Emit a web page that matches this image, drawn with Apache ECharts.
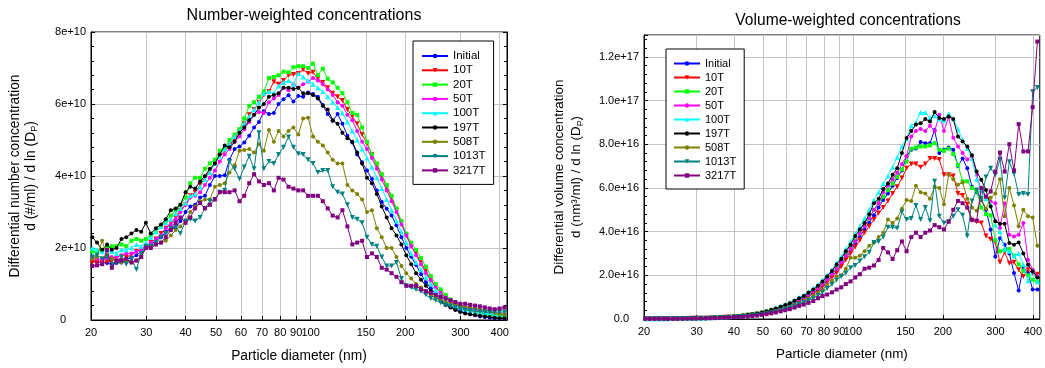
<!DOCTYPE html>
<html><head><meta charset="utf-8">
<script src="https://cdn.jsdelivr.net/npm/echarts@6/dist/echarts.min.js"></script>
<style>html,body{margin:0;padding:0;background:#fff}#c{width:1045px;height:368px}</style>
</head><body><div id="c"></div>
<script>
// Particle diameters (nm), SMPS channel midpoints
const diameters = [20.2,20.9,21.7,22.5,23.3,24.1,25.0,25.9,26.9,27.9,28.9,29.9,31.0,32.2,33.4,34.6,35.9,37.2,38.5,40.0,41.4,42.9,44.5,46.1,47.8,49.6,51.4,53.3,55.2,57.3,59.4,61.5,63.8,66.1,68.5,71.0,73.7,76.4,79.1,82.0,85.1,88.2,91.4,94.7,98.2,101.8,105.5,109.4,113.4,117.6,121.9,126.3,131.0,135.8,140.7,145.9,151.2,156.8,162.5,168.5,174.7,181.1,187.7,194.6,201.7,209.1,216.7,224.7,232.9,241.4,250.3,259.5,269.0,278.8,289.0,299.6,310.6,322.0,333.8,346.0,358.7,371.8,385.4,399.5,414.2];
const seriesNames = ['Initial','10T','20T','50T','100T','197T','508T','1013T','3217T'];

// Number-weighted (units of 1e10 #/ml)
const nInitial = [1.65,1.62,1.6,1.58,1.55,1.58,1.6,1.7,1.72,1.8, 1.9,2.0,2.1,2.2,2.3,2.45,2.55,2.55,2.75,3.0, 3.15,3.2,3.4,3.45,3.75,4.0,4.0,4.02,4.45,4.75, 4.82,4.93,5.12,5.35,5.5,5.8,5.72,5.75,6.0,6.13, 6.24,6.07,6.22,6.2,6.32,6.28,6.2,5.97,5.72,5.53, 5.72,5.45,5.12,4.93,4.6,4.38,4.15,3.92,3.6,3.28, 3.09,2.9,2.63,2.3,2.0,1.76,1.53,1.27,1.05,0.88, 0.72,0.58,0.47,0.38,0.3,0.24,0.2,0.16,0.13,0.1, 0.08,0.06,0.05,0.04,0.04];
const n10T = [1.6,1.62,1.6,1.62,1.65,1.7,1.65,1.75,1.8,1.9, 1.95,2.0,2.15,2.25,2.4,2.55,2.7,2.85,3.05,3.2, 3.45,3.55,3.75,3.95,4.15,4.35,4.55,4.7,4.85,5.05, 5.25,5.45,5.7,5.85,6.05,6.25,6.35,6.62,6.55,6.65, 6.8,6.82,6.85,6.95,6.85,6.88,6.7,6.6,6.45,6.3, 6.2,6.1,5.85,5.65,5.45,5.15,4.9,4.6,4.3,4.0, 3.7,3.4,3.05,2.7,2.35,2.05,1.85,1.6,1.35,1.12, 0.92,0.77,0.63,0.52,0.42,0.35,0.29,0.25,0.21,0.18, 0.15,0.13,0.11,0.1,0.08];
const n20T = [1.9,1.9,1.95,2.0,2.05,2.05,2.1,2.05,2.2,2.25, 2.2,2.25,2.35,2.45,2.6,2.75,2.9,3.05,3.2,3.4, 3.8,3.95,3.95,4.2,4.35,4.45,4.7,4.75,5.0,5.15, 5.3,5.6,5.95,6.05,6.2,6.35,6.72,6.75,6.8,6.9, 6.88,7.02,7.05,7.05,7.0,7.12,6.8,6.98,6.7,6.6, 6.45,6.3,6.05,5.75,5.7,5.35,4.95,4.6,4.35,4.05, 3.75,3.45,3.1,2.75,2.4,2.15,1.95,1.72,1.48,1.22, 1.0,0.85,0.7,0.57,0.47,0.39,0.33,0.28,0.24,0.2, 0.17,0.15,0.13,0.12,0.1];
const n50T = [1.75,1.7,1.68,1.72,1.75,1.72,1.8,1.85,1.85,1.9, 1.95,2.05,2.15,2.25,2.35,2.55,2.65,2.8,3.0,3.2, 3.4,3.45,3.55,3.75,3.95,4.15,4.4,4.6,4.75,4.95, 5.1,5.3,5.5,5.7,5.78,5.75,6.05,6.15,6.25,6.45, 6.38,6.55,6.45,6.55,6.62,6.72,6.65,6.55,6.4,6.25, 6.05,5.95,5.7,5.55,5.25,4.95,4.75,4.5,4.2,3.9, 3.6,3.3,3.0,2.65,2.35,2.05,1.8,1.55,1.3,1.1, 0.9,0.75,0.62,0.52,0.44,0.38,0.33,0.3,0.27,0.24, 0.22,0.2,0.18,0.17,0.15];
const n100T = [2.0,1.95,1.9,1.95,1.9,1.85,1.95,1.95,2.0,2.1, 2.05,2.15,2.3,2.45,2.6,2.7,2.8,2.95,3.1,3.25, 3.45,3.5,3.7,3.9,4.1,4.35,4.55,4.75,4.9,5.1, 5.25,5.45,5.65,5.85,6.05,6.3,6.35,6.3,6.5,6.6, 6.65,6.55,6.85,6.75,6.65,6.55,6.45,6.35,6.2,6.05, 5.9,5.75,5.5,5.25,5.0,4.75,4.5,4.25,3.95,3.65, 3.35,3.05,2.75,2.45,2.15,1.85,1.6,1.4,1.18,1.0, 0.82,0.68,0.56,0.47,0.4,0.34,0.3,0.27,0.24,0.22, 0.2,0.18,0.17,0.16,0.15];
const n197T = [2.3,2.15,1.95,2.1,1.95,2.0,2.25,2.3,2.4,2.5, 2.45,2.7,2.4,2.55,2.65,2.8,3.05,3.1,3.2,3.55, 3.7,3.65,3.85,4.0,4.2,4.35,4.6,4.85,4.8,4.95, 5.2,5.35,5.55,5.7,5.9,6.0,6.2,6.25,6.3,6.45, 6.45,6.42,6.45,6.3,6.3,6.25,6.15,5.95,5.85,5.55, 5.45,5.2,5.05,4.95,4.65,4.35,3.95,3.8,3.5,3.15, 2.85,2.55,2.35,2.1,1.8,1.55,1.3,1.12,0.95,0.8, 0.65,0.52,0.42,0.35,0.28,0.22,0.18,0.16,0.14,0.12, 0.1,0.08,0.06,0.05,0.05];
const n508T = [1.7,1.75,2.2,1.8,1.7,1.65,1.6,1.65,1.6,1.65, 1.8,2.0,2.05,2.1,2.15,2.2,2.35,2.5,2.6,2.75, 3.0,3.15,3.3,3.35,3.35,3.7,3.75,3.8,4.1,4.3, 4.7,4.72,4.75,4.65,4.88,4.7,5.28,4.95,5.25,5.1, 5.25,5.35,5.15,5.6,5.62,5.1,4.95,4.85,4.65,4.45, 4.35,4.35,3.75,3.6,3.5,3.35,3.0,3.05,2.55,2.3, 2.0,2.0,1.75,1.5,1.3,1.15,1.0,0.9,0.8,0.7, 0.62,0.55,0.5,0.45,0.42,0.4,0.37,0.35,0.32,0.3, 0.27,0.24,0.2,0.17,0.15];
const n1013T = [1.75,1.8,1.7,1.75,1.55,1.6,1.75,1.55,1.7,1.4, 1.85,2.05,2.05,2.15,2.3,2.4,2.55,2.6,2.4,2.75, 2.8,2.75,2.85,3.1,3.3,3.35,3.55,3.6,4.4,4.2, 3.92,4.25,4.55,4.2,5.2,4.2,4.4,4.35,4.6,4.8, 5.08,4.8,4.62,4.6,4.45,4.35,4.1,4.15,4.15,3.7, 3.55,3.5,3.2,2.85,2.8,2.7,2.3,2.1,2.05,1.75, 1.5,1.5,1.6,1.15,0.95,0.9,0.85,0.8,0.7,0.6, 0.55,0.48,0.42,0.38,0.35,0.3,0.28,0.26,0.25,0.23, 0.22,0.22,0.22,0.22,0.22];
const n3217T = [1.5,1.52,1.55,1.95,1.45,1.65,1.65,1.7,1.6,1.65, 1.75,2.0,2.0,2.1,2.15,2.3,2.5,2.7,2.85,2.7, 2.85,3.1,3.25,3.1,3.2,3.35,3.55,3.55,3.55,3.6, 3.3,3.45,3.8,4.05,3.85,3.75,3.8,3.6,3.95,3.9, 3.7,3.65,3.6,3.6,3.45,3.45,3.45,3.3,3.1,2.9, 2.85,3.05,2.6,2.1,2.15,2.2,1.75,1.85,1.75,1.45, 1.4,1.3,1.2,1.05,0.95,0.95,0.95,0.85,0.8,0.75, 0.7,0.65,0.6,0.55,0.5,0.45,0.45,0.42,0.4,0.38, 0.35,0.32,0.3,0.32,0.35];

// Volume-weighted (units of 1e16 nm^3/ml)
const vInitial = [0.01,0.01,0.01,0.01,0.01,0.01,0.01,0.02,0.02,0.02, 0.03,0.03,0.04,0.05,0.05,0.06,0.07,0.08,0.09,0.11, 0.13,0.15,0.17,0.2,0.23,0.27,0.31,0.36,0.42,0.5, 0.57,0.64,0.74,0.85,0.95,1.08,1.2,1.35,1.55,1.75, 1.98,2.2,2.5,2.8,3.1,3.45,3.75,4.1,4.4,4.75, 5.1,5.45,5.75,6.1,6.45,6.8,7.45,7.75,7.8,8.1, 8.05,8.05,8.65,7.6,7.75,7.85,7.75,7.0,7.35,6.9, 6.05,5.8,5.45,5.0,4.1,2.85,3.7,3.4,3.0,2.1, 1.3,2.4,2.1,1.35,1.35];
const v10T = [0.01,0.01,0.01,0.01,0.01,0.01,0.01,0.02,0.02,0.02, 0.03,0.03,0.04,0.04,0.05,0.06,0.07,0.08,0.09,0.1, 0.12,0.14,0.17,0.19,0.22,0.26,0.3,0.35,0.41,0.48, 0.55,0.62,0.72,0.82,0.92,1.04,1.16,1.3,1.48,1.68, 1.9,2.12,2.4,2.7,3.0,3.3,3.6,3.95,4.25,4.55, 4.85,5.1,5.4,5.75,6.05,6.45,6.9,7.1,7.1,6.95, 7.1,7.35,7.35,7.3,6.6,6.6,6.55,5.75,5.65,5.25, 4.5,4.45,4.4,3.8,3.65,3.5,2.6,3.05,2.55,2.6, 2.25,1.95,2.25,2.1,2.05];
const v20T = [0.01,0.01,0.01,0.01,0.01,0.01,0.02,0.02,0.02,0.03, 0.03,0.04,0.04,0.05,0.06,0.07,0.08,0.09,0.1,0.12, 0.14,0.16,0.19,0.22,0.25,0.29,0.34,0.4,0.46,0.54, 0.62,0.7,0.8,0.92,1.02,1.15,1.3,1.46,1.65,1.85, 2.1,2.35,2.65,2.95,3.25,3.6,3.9,4.3,4.6,5.0, 5.3,5.6,5.9,6.2,6.5,6.85,7.2,7.8,7.85,7.9, 7.9,7.95,8.05,7.75,7.7,7.8,7.55,7.05,6.3,6.3, 6.0,5.85,5.1,4.8,4.75,3.6,3.1,3.15,3.2,2.9, 2.5,2.2,2.0,1.8,1.7];
const v50T = [0.01,0.01,0.01,0.01,0.01,0.01,0.02,0.02,0.02,0.02, 0.03,0.03,0.04,0.05,0.05,0.06,0.07,0.08,0.09,0.11, 0.13,0.15,0.18,0.2,0.23,0.28,0.33,0.39,0.45,0.52, 0.6,0.68,0.78,0.9,1.0,1.12,1.27,1.42,1.6,1.8, 2.05,2.3,2.6,2.9,3.2,3.55,3.9,4.25,4.6,5.0, 5.3,5.8,6.1,6.4,6.7,7.1,7.45,8.35,8.6,8.7, 8.6,8.85,8.6,9.35,8.6,9.25,8.3,7.9,7.6,7.3, 7.45,6.6,5.85,5.6,5.38,5.3,4.16,5.3,3.86,3.78, 3.86,4.39,2.71,2.26,1.95];
const v100T = [0.01,0.01,0.01,0.01,0.01,0.01,0.02,0.02,0.02,0.03, 0.03,0.04,0.04,0.05,0.06,0.07,0.08,0.09,0.1,0.12, 0.14,0.17,0.2,0.23,0.26,0.31,0.36,0.43,0.5,0.58, 0.66,0.75,0.87,0.98,1.1,1.25,1.4,1.58,1.78,2.0, 2.25,2.55,2.85,3.2,3.55,3.9,4.25,4.6,5.0,5.45, 5.8,6.2,6.55,6.95,7.4,7.9,8.25,8.85,9.0,9.45, 9.45,9.2,9.3,9.15,9.1,9.4,9.15,8.7,8.2,7.8, 7.35,6.4,5.9,5.5,5.25,4.3,4.0,3.2,3.1,2.9, 3.0,2.5,1.75,2.2,1.7];
const v197T = [0.01,0.01,0.01,0.01,0.01,0.01,0.02,0.02,0.02,0.03, 0.03,0.04,0.04,0.05,0.06,0.07,0.08,0.09,0.1,0.12, 0.14,0.16,0.19,0.22,0.25,0.3,0.35,0.42,0.48,0.56, 0.64,0.72,0.84,0.95,1.05,1.2,1.35,1.52,1.72,1.95, 2.2,2.5,2.75,3.1,3.4,3.8,4.1,4.4,4.8,5.3, 5.5,5.95,6.2,6.6,6.9,7.6,8.28,8.6,8.9,8.96, 9.15,9.04,9.47,9.2,9.15,9.27,9.16,8.35,8.12,7.9, 7.5,6.75,6.37,5.9,5.15,4.47,4.36,4.36,3.48,3.4, 3.5,3.0,2.48,2.18,1.9];
const v508T = [0.01,0.01,0.01,0.01,0.01,0.01,0.01,0.01,0.02,0.02, 0.02,0.03,0.03,0.04,0.04,0.05,0.06,0.07,0.08,0.09, 0.1,0.12,0.14,0.16,0.18,0.22,0.26,0.3,0.35,0.41, 0.48,0.55,0.64,0.72,0.82,0.92,1.05,1.2,1.35,1.55, 1.75,1.95,2.0,2.3,2.8,2.8,2.9,3.1,3.35,3.5, 3.75,3.95,4.55,4.4,4.6,5.05,5.45,5.4,6.1,5.8, 5.75,5.5,6.05,6.0,5.25,6.6,6.4,6.15,6.25,5.5, 5.1,4.95,5.5,5.05,5.55,5.75,6.4,4.7,6.0,5.2, 4.25,5.0,4.7,4.65,3.35];
const v1013T = [0.01,0.01,0.01,0.01,0.01,0.01,0.01,0.01,0.02,0.02, 0.02,0.03,0.03,0.03,0.04,0.05,0.05,0.06,0.07,0.08, 0.1,0.11,0.13,0.15,0.17,0.2,0.24,0.28,0.33,0.38, 0.44,0.5,0.58,0.66,0.75,0.85,0.95,1.08,1.22,1.4, 1.58,1.78,1.95,2.1,2.35,2.45,2.65,2.85,3.05,3.5, 3.55,3.75,4.2,4.2,4.15,4.9,4.55,4.6,5.2,4.55, 5.1,4.5,6.3,4.7,4.4,4.45,4.7,5.0,4.75,3.8, 5.4,5.9,5.5,6.5,6.9,6.6,7.3,5.55,7.2,6.65, 5.7,5.75,5.7,10.4,10.6];
const v3217T = [0.01,0.01,0.01,0.01,0.01,0.01,0.01,0.01,0.01,0.02, 0.02,0.02,0.03,0.03,0.04,0.04,0.05,0.06,0.07,0.08, 0.09,0.1,0.12,0.14,0.16,0.19,0.22,0.26,0.3,0.35, 0.4,0.45,0.52,0.6,0.66,0.74,0.82,0.95,1.05,1.12, 1.22,1.35,1.45,1.6,1.72,1.9,2.05,2.3,2.35,2.45, 2.7,3.25,3.05,2.75,3.15,3.55,3.1,3.75,3.95,3.75, 3.95,4.05,4.3,4.2,4.1,4.45,5.0,5.4,5.3,5.1, 4.55,4.5,6.0,5.6,5.84,6.75,7.62,6.75,8.0,6.8, 8.92,7.67,7.67,9.7,12.7];

const xTicks = [20,30,40,50,60,70,80,90,100,150,200,300,400];
const nYTicks = [0,2,4,6,8];
const nYLabels = ['0','2e+10','4e+10','6e+10','8e+10'];
const vYTicks = [0,2,4,6,8,10,12];
const vYLabels = ['0.0','2.0e+16','4.0e+16','6.0e+16','8.0e+16','1.0e+17','1.2e+17'];

const numberData = [nInitial,n10T,n20T,n50T,n100T,n197T,n508T,n1013T,n3217T];
const volumeData = [vInitial,v10T,v20T,v50T,v100T,v197T,v508T,v1013T,v3217T];
const colors = ['#0000ff','#ff0000','#00ff00','#ff00ff','#00ffff','#000000','#808000','#008080','#800080'];
const symbols = ['circle','triangle','rect','circle','triangle','circle','circle','triangle','rect'];
const symRot = [0,180,0,0,0,0,0,180,0];

const FONT = 'Liberation Sans, Arial, Helvetica, sans-serif';
const chart = echarts.init(document.getElementById('c'), null, {renderer: 'canvas'});

function lab(ticks, labels) {
  return function (v) {
    const k = ticks.indexOf(Math.round(v * 1000) / 1000);
    if (k < 0) return '';
    return k === 0 ? '{z|' + labels[k] + '}' : labels[k];
  };
}
function xAxisOpt(gi, fs) {
  return {
    type: 'log', logBase: 10, gridIndex: gi, min: 20, max: 422,
    axisLine: {show: true, lineStyle: {color: '#000', width: 1}},
    axisTick: {show: true, inside: true, length: 4, customValues: xTicks, lineStyle: {color: '#000'}},
    axisLabel: {customValues: xTicks, fontSize: 11, color: '#000', margin: 7, fontFamily: FONT},
    splitLine: {show: true, lineStyle: {color: '#c4c4c4', width: 1}},
    minorTick: {show: false},
    name: 'Particle diameter (nm)', nameLocation: 'middle', nameGap: 29,
    nameTextStyle: {fontSize: fs, color: '#000', fontFamily: FONT}
  };
}
function yAxisOpt(gi, max, ticks, labels, name, gap, fs, lh, zpad, pos) {
  const o = {
    type: 'value', gridIndex: gi, min: 0, max: max, interval: 2, position: pos || 'left',
    axisLine: {show: true, lineStyle: {color: '#000', width: 1}},
    axisTick: {show: true, inside: true, length: 4, lineStyle: {color: '#000'}},
    minorTick: {show: true, splitNumber: 5, length: 3, lineStyle: {color: '#000'}},
    splitLine: {show: !pos, lineStyle: {color: '#c4c4c4', width: 1}},
    axisLabel: {show: !pos, formatter: lab(ticks, labels), fontSize: 11, color: '#000', margin: 5, fontFamily: FONT,
      rich: {z: {fontSize: 11, color: '#000', fontFamily: FONT, padding: [0, zpad || 0, 0, 0]}}}
  };
  if (name) {
    o.name = name; o.nameLocation = 'middle'; o.nameGap = gap;
    o.nameTextStyle = {fontSize: fs, color: '#000', fontFamily: FONT, lineHeight: lh,
      rich: {a: {fontSize: fs, lineHeight: lh, fontFamily: FONT, color: '#000'},
             b: {fontSize: fs * 0.65, lineHeight: 6, verticalAlign: 'bottom', fontFamily: FONT, color: '#000'}}};
  }
  return o;
}

const series = [];
[numberData, volumeData].forEach(function (set, gi) {
  set.forEach(function (arr, k) {
    series.push({
      name: seriesNames[k], type: 'line', xAxisIndex: gi, yAxisIndex: gi === 0 ? 0 : 2,
      data: diameters.map(function (d, i) { return [d, arr[i]]; }),
      symbol: symbols[k], symbolRotate: symRot[k], symbolSize: symbols[k] === 'triangle' ? 5 : 4,
      showSymbol: true, color: colors[k],
      lineStyle: {width: 1, color: colors[k]}, itemStyle: {color: colors[k]},
      emphasis: {disabled: true}, animation: false, z: 2 + k
    });
  });
});

function legendOpt(left, top, fs, gap, pad) {
  return {
    data: seriesNames, orient: 'vertical', left: left, top: top,
    padding: pad, itemGap: gap, itemWidth: 26, itemHeight: 5.5,
    backgroundColor: '#fff', borderColor: '#000', borderWidth: 1,
    textStyle: {fontSize: fs, color: '#000', fontFamily: FONT}, selectedMode: false
  };
}

chart.setOption({
  animation: false,
  backgroundColor: '#fff',
  title: [
    {text: 'Number-weighted concentrations', left: 299, top: 3, textAlign: 'center',
     textStyle: {fontSize: 16, fontWeight: 'normal', color: '#000', fontFamily: FONT}},
    {text: 'Volume-weighted concentrations', left: 843, top: 8, textAlign: 'center',
     textStyle: {fontSize: 15.6, fontWeight: 'normal', color: '#000', fontFamily: FONT}}
  ],
  grid: [
    {left: 91, top: 32, width: 416, height: 290, show: true, borderColor: '#000', borderWidth: 1, backgroundColor: 'transparent'},
    {left: 644, top: 35, width: 398, height: 284, show: true, borderColor: '#000', borderWidth: 1, backgroundColor: 'transparent'}
  ],
  legend: [legendOpt(413, 41, 11.5, 2.3, [9, 8, 8, 8]), legendOpt(666, 49, 11, 3.0, [9, 8, 8, 7])],
  xAxis: [xAxisOpt(0, 13.8), xAxisOpt(1, 13.4)],
  yAxis: [
    yAxisOpt(0, 8, nYTicks, nYLabels, 'Differential number concentration\n{a|d (#/ml) / d ln (D}{b|P}{a|)}', 52, 13.8, 16, 20),
    yAxisOpt(0, 8, nYTicks, nYLabels, null, 0, 0, 0, 0, 'right'),
    yAxisOpt(1, 13, vYTicks, vYLabels, 'Differential volume concentration\n{a|d (nm³/ml) / d ln (D}{b|P}{a|)}', 59, 13.4, 17, 10)
  ],
  series: series
});
</script></body></html>
